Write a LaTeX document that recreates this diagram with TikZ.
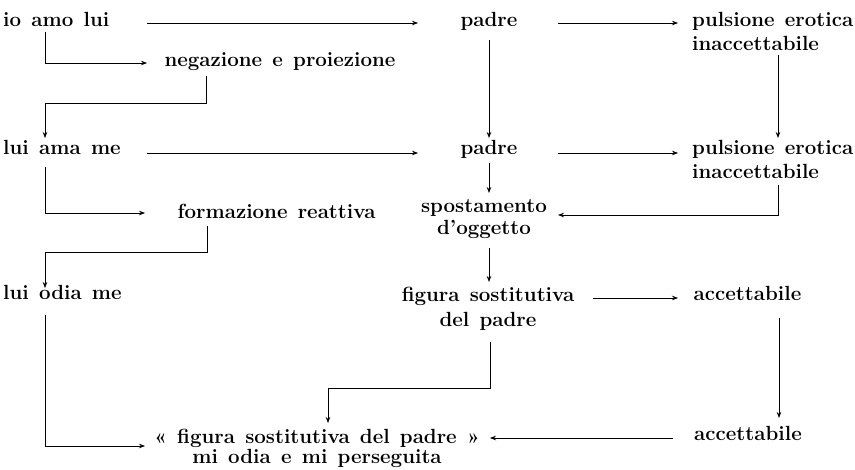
\documentclass[tikz,border=0pt]{standalone}
\usetikzlibrary{arrows.meta}
\newcommand\wsp{\spaceskip=0.5em plus 0.1em\relax}
\begin{document}
\begin{tikzpicture}[x=1pt,y=-1pt,
  lbl/.style={inner sep=0pt, font=\fontsize{20.5}{24}\selectfont\bfseries, execute at begin node=\wsp},
  lblc/.style={lbl, anchor=base, align=center},
  lblw/.style={lbl, anchor=base west, align=left},
  conn/.style={line width=0.7pt},
  arr/.style={conn, -{Stealth[length=6pt,width=4.5pt]}}]
\useasboundingbox (0,0) rectangle (855,470);
% nodes (multi-line nodes are placed at the baseline of their last line)
\node[lblw] (io)   at (3,27)     {io amo lui};
\node[lblc] (pa1)  at (489,27)   {padre};
\node[lblw] (pe1)  at (692,51)   {pulsione erotica\\inaccettabile};
\node[lblc] (neg)  at (280,67)   {negazione e proiezione};
\node[lblw] (lam)  at (3,155)    {lui ama me};
\node[lblc] (pa2)  at (489,155)  {padre};
\node[lblw] (pe2)  at (692,179)  {pulsione erotica\\inaccettabile};
\node[lblc] (spo)  at (484,235)  {spostamento\\[-2pt]d'oggetto};
\node[lblc] (form) at (276.5,219){formazione reattiva};
\node[lblw] (lod)  at (3,300)    {lui odia me};
\node[lblc] (fig)  at (488,327)  {figura sostitutiva\\[1pt]del padre};
\node[lblc] (acc1) at (747.5,301){accettabile};
\node[lblc] (acc2) at (748,441)  {accettabile};
\node[lblc] (fin)  at (317,464)  {« figura sostitutiva del padre »\\[-4pt]mi odia e mi perseguita};
% connectors
\draw[arr] ([shift={(144,-4)}]io.base west) -- ([shift={(-71,-4)}]pa1.base);
\draw[arr] ([shift={(69,-4)}]pa1.base) -- ([shift={(-14,-28)}]pe1.base west);
\draw[arr] ([shift={(42,5)}]io.base west) |- ([shift={(-133,-4)}]neg.base);
\draw[arr] ([shift={(-74,9)}]neg.base) -- ++(0,27) -| ([shift={(42,-17)}]lam.base west);
\draw[arr] ([shift={(0,13)}]pa1.base) -- ([shift={(0,-17)}]pa2.base);
\draw[arr] ([shift={(86,4)}]pe1.base west) -- ([shift={(86,-41)}]pe2.base west);
\draw[arr] ([shift={(144,-2)}]lam.base west) -- ([shift={(-71,-2)}]pa2.base);
\draw[arr] ([shift={(69,-2)}]pa2.base) -- ([shift={(-14,-26)}]pe2.base west);
\draw[arr] ([shift={(0,8)}]pa2.base) -- ([shift={(5,-42)}]spo.base);
\draw[arr] ([shift={(86,6)}]pe2.base west) |- ([shift={(74,-20)}]spo.base);
\draw[arr] ([shift={(42,12)}]lam.base west) |- ([shift={(-131.5,-6)}]form.base);
\draw[arr] ([shift={(-69.5,7)}]form.base) -- ++(0,26) -| ([shift={(42,-12)}]lod.base west);
\draw[arr] ([shift={(5,13)}]spo.base) -- ([shift={(1,-45)}]fig.base);
\draw[arr] ([shift={(105,-29)}]fig.base) -- ([shift={(-69.5,-3)}]acc1.base);
\draw[arr] ([shift={(31.5,17)}]acc1.base) -- ([shift={(31,-23)}]acc2.base);
\draw[arr] ([shift={(-75,-3)}]acc2.base) -- ([shift={(173,-26)}]fin.base);
\draw[arr] ([shift={(2,15)}]fig.base) -- ++(0,46) -| ([shift={(11,-41)}]fin.base);
\draw[arr] ([shift={(42,15)}]lod.base west) |- ([shift={(-172,-18)}]fin.base);
\end{tikzpicture}
\end{document}
